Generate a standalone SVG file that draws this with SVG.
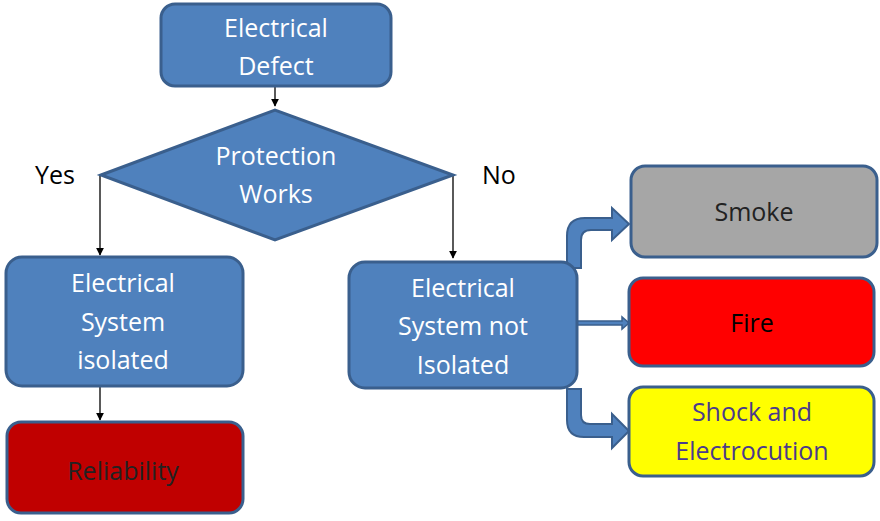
<svg xmlns="http://www.w3.org/2000/svg" width="880" height="521" viewBox="0 0 880 521">
<defs>
<style>
.b{fill:#4f81bd;stroke:#3a5f8d;stroke-width:3}
.t{font-family:"Open Sans","Liberation Sans",sans-serif;font-size:25px;text-anchor:middle;fill:#fff}
.l{font-family:"Open Sans","Liberation Sans",sans-serif;font-size:25px;fill:#000}
.c{stroke:#000;stroke-width:1.3;fill:none;marker-end:url(#a)}
</style>
<marker id="a" viewBox="0 0 10 10" refX="9" refY="5" markerWidth="8" markerHeight="8" orient="auto" markerUnits="userSpaceOnUse"><path d="M0,0L10,5L0,10z" fill="#000"/></marker>
</defs>
<rect width="880" height="521" fill="#fff"/>
<g id="connectors">
<path class="c" d="M275,87V106"/>
<path class="c" d="M100,175V255"/>
<path class="c" d="M453,175V258"/>
<path class="c" d="M100,387V420"/>
<path d="M567,268V236Q567,218 585,218H612V208L629,224L612,240V230H591Q581,230 581,240V268Z" fill="#4f81bd" stroke="#3a5f8d" stroke-width="2"/>
<path d="M577,321H622V317L629,323L622,329V325H577Z" fill="#4f81bd" stroke="#3a5f8d" stroke-width="1.5"/>
<path d="M567,389V420Q567,437 584,437H612V448L629,431L612,414V424H590Q581,424 581,415V389Z" fill="#4f81bd" stroke="#3a5f8d" stroke-width="2"/>
</g>
<g id="defect"><rect class="b" x="161" y="4" width="230" height="82" rx="14"/><text class="t" x="276" y="37">Electrical</text><text class="t" x="276" y="75">Defect</text></g>
<g id="protection"><path class="b" d="M101,175L275,110L453,175L275,240Z"/><text class="t" x="276" y="165">Protection</text><text class="t" x="276" y="203">Works</text></g>
<text class="l" x="35" y="184">Yes</text>
<text class="l" x="482" y="184">No</text>
<g id="isolated"><rect class="b" x="6" y="257" width="237" height="129" rx="16"/><text class="t" x="123" y="292">Electrical</text><text class="t" x="123" y="331">System</text><text class="t" x="123" y="369">isolated</text></g>
<g id="notisolated"><rect class="b" x="349" y="262" width="228" height="126" rx="16"/><text class="t" x="463" y="297">Electrical</text><text class="t" x="463" y="335">System not</text><text class="t" x="463" y="374">Isolated</text></g>
<g id="reliability"><rect x="7" y="422" width="236" height="91" rx="14" fill="#c00000" stroke="#3a5f8d" stroke-width="3"/><text class="t" x="123" y="480" style="fill:#222">Reliability</text></g>
<g id="smoke"><rect x="631" y="166" width="246" height="91" rx="14" fill="#a6a6a6" stroke="#3a5f8d" stroke-width="3"/><text class="t" x="754" y="221" style="fill:#222">Smoke</text></g>
<g id="fire"><rect x="629" y="278" width="245" height="88" rx="14" fill="#ff0000" stroke="#3a5f8d" stroke-width="3"/><text class="t" x="752" y="332" style="fill:#000">Fire</text></g>
<g id="shock"><rect x="629" y="387" width="245" height="89" rx="14" fill="#ffff00" stroke="#3a5f8d" stroke-width="3"/><text class="t" x="752" y="421" style="fill:#4b3a8c">Shock and</text><text class="t" x="752" y="460" style="fill:#4b3a8c">Electrocution</text></g>
</svg>
